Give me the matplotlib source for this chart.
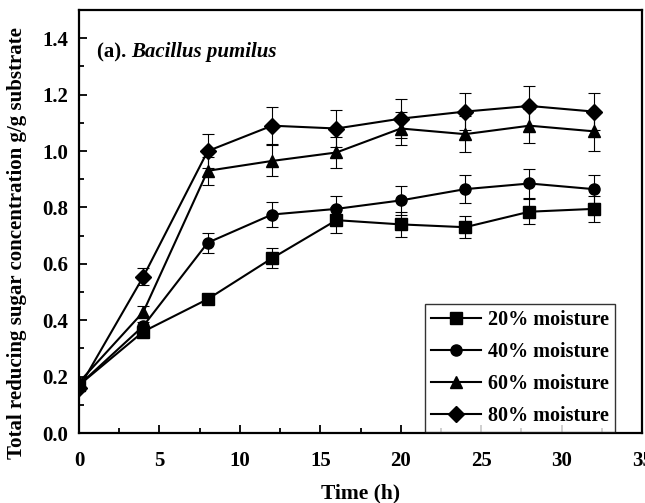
import matplotlib.pyplot as plt
from matplotlib.ticker import MultipleLocator

time_h = [0, 4, 8, 12, 16, 20, 24, 28, 32]
labels = ['20% moisture', '40% moisture', '60% moisture', '80% moisture']
markers = ['s', 'o', '^', 'D']

m20 = [0.17, 0.36, 0.475, 0.62, 0.755, 0.74, 0.73, 0.785, 0.795]
m40 = [0.17, 0.38, 0.675, 0.775, 0.795, 0.825, 0.865, 0.885, 0.865]
m60 = [0.18, 0.43, 0.93, 0.965, 0.995, 1.08, 1.06, 1.09, 1.07]
m80 = [0.16, 0.555, 1.0, 1.09, 1.08, 1.115, 1.14, 1.16, 1.14]

e20 = [0.01, 0.015, 0.015, 0.035, 0.045, 0.045, 0.04, 0.045, 0.045]
e40 = [0.01, 0.015, 0.035, 0.045, 0.045, 0.05, 0.05, 0.05, 0.05]
e60 = [0.01, 0.02, 0.05, 0.055, 0.055, 0.06, 0.065, 0.06, 0.07]
e80 = [0.01, 0.03, 0.06, 0.065, 0.065, 0.07, 0.065, 0.07, 0.065]

series = [m20, m40, m60, m80]
errors = [e20, e40, e60, e80]

plt.rcParams['font.family'] = ['Liberation Serif', 'DejaVu Serif']
plt.rcParams['font.weight'] = 'bold'

fig = plt.figure(figsize=(6.45, 5.03), dpi=100)
ax = fig.add_axes([0.1225, 0.139, 0.873, 0.841])

handles = []
for y, err, mk, lab in zip(series, errors, markers, labels):
    ms = 8.5 if mk == 'D' else 8
    c = ax.errorbar(time_h, y, yerr=err, color='black', marker=mk, markersize=ms,
                    linewidth=1.5, elinewidth=0.8, capsize=4, capthick=0.8)
    handles.append(c[0])

ax.set_xlim(0, 35)
ax.set_ylim(0, 1.5)
ax.xaxis.set_major_locator(MultipleLocator(5))
ax.xaxis.set_minor_locator(MultipleLocator(2.5))
ax.yaxis.set_minor_locator(MultipleLocator(0.1))
ax.set_yticks([0, 0.2, 0.4, 0.6, 0.8, 1.0, 1.2, 1.4])
ax.set_yticklabels(['0.0', '0.2', '0.4', '0.6', '0.8', '1.0', '1.2', '1.4'])
ax.tick_params(which='both', direction='in', labelsize=15, width=1.3)
ax.tick_params(which='major', length=6)
ax.tick_params(which='minor', length=3.5)
ax.tick_params(axis='x', pad=13)
ax.tick_params(axis='y', pad=8)
for s in ax.spines.values():
    s.set_linewidth(1.6)

ax.set_xlabel('Time (h)', fontsize=15.5, fontweight='bold', labelpad=9)
ax.set_ylabel('Total reducing sugar concentration g/g substrate',
              fontsize=15, fontweight='bold')
ax.yaxis.set_label_coords(-0.093, 0.45)

t1 = ax.text(35 * 0.032, 1.35, '(a). ', fontsize=15, fontweight='bold',
             va='center')
ax.annotate('Bacillus pumilus', xy=(1, 0.5), xycoords=t1, va='center',
            fontsize=15, fontweight='bold', style='italic')

leg = ax.legend(handles, labels, loc='lower right',
                bbox_to_anchor=(0.952, 0.002),
                fontsize=14.5, frameon=True, fancybox=False, edgecolor='black',
                handlelength=2.5, handletextpad=0.35, borderpad=0.3,
                labelspacing=0.6, borderaxespad=0)
leg.get_frame().set_linewidth(1.0)

fig.savefig('out.png', dpi=100)
